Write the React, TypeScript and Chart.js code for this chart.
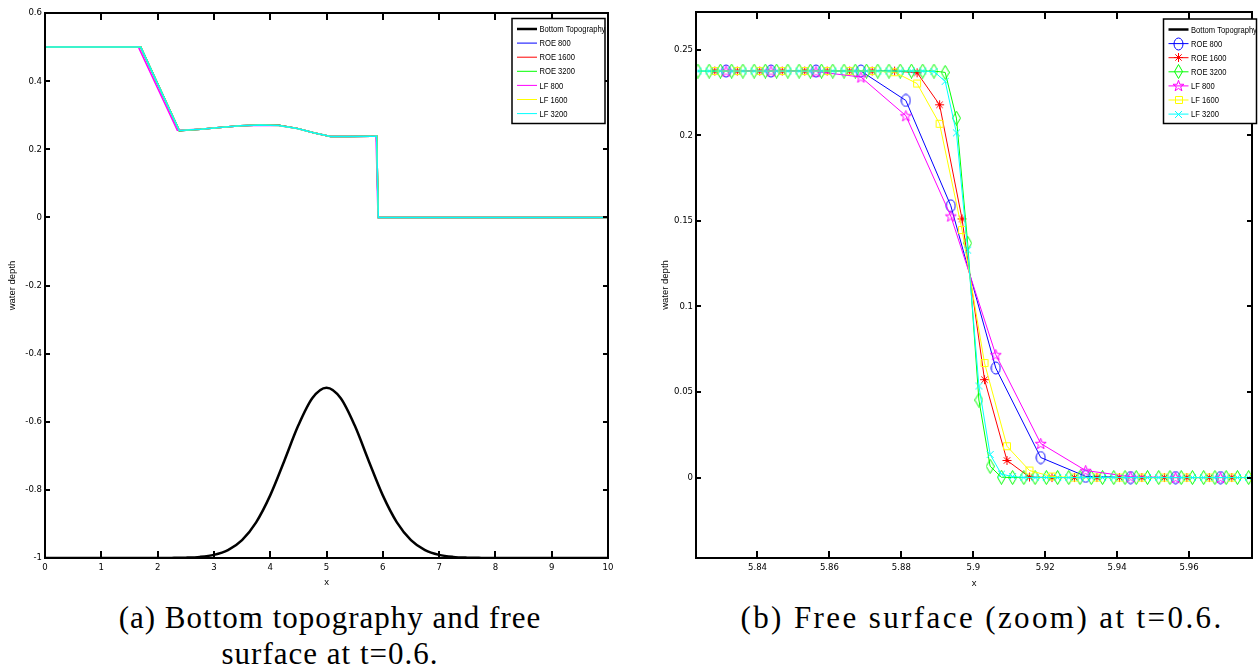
import React, { useEffect, useRef } from 'react';
import { Chart, registerables } from 'chart.js';

Chart.register(...registerables);

const SANS_NARROW = '"DejaVu Sans Condensed", "Liberation Sans Narrow", "Liberation Sans", Arial, sans-serif';
const SANS = '"Liberation Sans", Arial, sans-serif';

// ---------------- Series (legend order) ----------------
const seriesNames = ['Bottom Topography', 'ROE 800', 'ROE 1600', 'ROE 3200', 'LF 800', 'LF 1600', 'LF 3200'];
const seriesColors = ['#000000', '#0000ff', '#ff0000', '#00ff00', '#ff00ff', '#ffff00', '#00ffff'];
const seriesMarkers = ['none', 'circle', 'asterisk', 'diamond', 'pentagram', 'square', 'cross'];
const seriesWidths = [2.5, 1, 1, 1, 1, 1, 1];

// ---------------- Left panel data (full domain) ----------------
const bottomX = [0, 1, 2, 2.25, 2.5, 2.75, 3, 3.25, 3.5, 3.75, 4, 4.25, 4.5, 4.75, 5, 5.25, 5.5, 5.75, 6, 6.25, 6.5, 6.75, 7, 7.25, 7.5, 7.75, 8, 9, 10];
const bottomY = [-1, -1, -0.9999, -0.9997, -0.999, -0.9968, -0.9908, -0.9766, -0.9473, -0.8952, -0.8161, -0.7151, -0.6106, -0.5303, -0.5, -0.5303, -0.6106, -0.7151, -0.8161, -0.8952, -0.9473, -0.9766, -0.9908, -0.9968, -0.999, -0.9997, -0.9999, -1, -1];

const surfaceX = [0, 1.7, 2.385, 2.76, 3.1, 3.47, 3.83, 4.15, 4.48, 4.77, 5.07, 5.4, 5.8, 5.89, 5.92, 10];
const roeSurfaceY = [0.5, 0.5, 0.2545, 0.2585, 0.2635, 0.2691, 0.271, 0.2701, 0.2613, 0.2484, 0.2375, 0.2372, 0.2378, 0.239, 0, 0];
const lfSurfaceY = [0.5, 0.5, 0.2548, 0.2585, 0.2635, 0.2691, 0.2709, 0.27, 0.2612, 0.2484, 0.2376, 0.2373, 0.2378, 0.2388, 0, 0];
const lf800SurfaceX = [0, 1.66, 2.35, 2.76, 3.1, 3.47, 3.83, 4.15, 4.48, 4.77, 5.07, 5.4, 5.8, 5.88, 5.915, 10];
const lf800SurfaceY = [0.5, 0.5, 0.2555, 0.2585, 0.2635, 0.2691, 0.2708, 0.2699, 0.2611, 0.2483, 0.2376, 0.2373, 0.2378, 0.2385, 0, 0];

// ---------------- Right panel data (zoom near the front) ----------------
const grid800X = [5.83125, 5.84375, 5.85625, 5.86875, 5.88125, 5.89375, 5.90625, 5.91875, 5.93125, 5.94375, 5.95625, 5.96875];
const roe800Y = [0.2375, 0.2375, 0.2375, 0.2375, 0.2203, 0.1588, 0.064, 0.0117, 0.0007, 0, 0, 0];
const lf800Y = [0.2375, 0.2375, 0.2372, 0.234, 0.2114, 0.1528, 0.0718, 0.0199, 0.0041, 0.0005, 0, 0];

const grid1600X = [5.828125, 5.834375, 5.840625, 5.846875, 5.853125, 5.859375, 5.865625, 5.871875, 5.878125, 5.884375,
  5.890625, 5.896875, 5.903125, 5.909375, 5.915625, 5.921875, 5.928125, 5.934375, 5.940625, 5.946875,
  5.953125, 5.959375, 5.965625, 5.971875, 5.978125];
const roe1600Y = [0.2375, 0.2375, 0.2375, 0.2375, 0.2375, 0.2375, 0.2375, 0.2375, 0.2375, 0.2365,
  0.2178, 0.1511, 0.0572, 0.01, 0.0003, 0, 0, 0, 0, 0,
  0, 0, 0, 0, 0];
const lf1600Y = [0.2375, 0.2375, 0.2375, 0.2375, 0.2375, 0.2375, 0.2375, 0.2375, 0.2368, 0.2302,
  0.2067, 0.1446, 0.0669, 0.0183, 0.0041, 0.0006, 0, 0, 0, 0,
  0, 0, 0, 0, 0];

const grid3200X = [5.8234375, 5.8265625, 5.8296875, 5.8328125, 5.8359375, 5.8390625, 5.8421875, 5.8453125, 5.8484375, 5.8515625,
  5.8546875, 5.8578125, 5.8609375, 5.8640625, 5.8671875, 5.8703125, 5.8734375, 5.8765625, 5.8796875, 5.8828125,
  5.8859375, 5.8890625, 5.8921875, 5.8953125, 5.8984375, 5.9015625, 5.9046875, 5.9078125, 5.9109375, 5.9140625,
  5.9171875, 5.9203125, 5.9234375, 5.9265625, 5.9296875, 5.9328125, 5.9359375, 5.9390625, 5.9421875, 5.9453125,
  5.9484375, 5.9515625, 5.9546875, 5.9578125, 5.9609375, 5.9640625, 5.9671875, 5.9703125, 5.9734375, 5.9765625];
const roe3200Y = [0.2375, 0.2375, 0.2375, 0.2375, 0.2375, 0.2375, 0.2375, 0.2375, 0.2375, 0.2375,
  0.2375, 0.2375, 0.2375, 0.2375, 0.2375, 0.2375, 0.2375, 0.2375, 0.2375, 0.2375,
  0.2375, 0.2375, 0.2367, 0.21, 0.137, 0.0453, 0.0066, 0.0002, 0, 0,
  0, 0, 0, 0, 0, 0, 0, 0, 0, 0,
  0, 0, 0, 0, 0, 0, 0, 0, 0, 0];
const lf3200Y = [0.2375, 0.2375, 0.2375, 0.2375, 0.2375, 0.2375, 0.2375, 0.2375, 0.2375, 0.2375,
  0.2375, 0.2375, 0.2375, 0.2375, 0.2375, 0.2375, 0.2375, 0.2375, 0.2375, 0.2375,
  0.2375, 0.2372, 0.2315, 0.2014, 0.1329, 0.0535, 0.0135, 0.002, 0.0006, 0,
  0, 0, 0, 0, 0, 0, 0, 0, 0, 0,
  0, 0, 0, 0, 0, 0, 0, 0, 0, 0];

// ---------------- Ticks ----------------
const leftXTicks = [0, 1, 2, 3, 4, 5, 6, 7, 8, 9, 10];
const leftXLabels = ['0', '1', '2', '3', '4', '5', '6', '7', '8', '9', '10'];
const leftYTicks = [-1, -0.8, -0.6, -0.4, -0.2, 0, 0.2, 0.4, 0.6];
const leftYLabels = ['-1', '-0.8', '-0.6', '-0.4', '-0.2', '0', '0.2', '0.4', '0.6'];
const rightXTicks = [5.84, 5.86, 5.88, 5.9, 5.92, 5.94, 5.96];
const rightXLabels = ['5.84', '5.86', '5.88', '5.9', '5.92', '5.94', '5.96'];
const rightYTicks = [0, 0.05, 0.1, 0.15, 0.2, 0.25];
const rightYLabels = ['0', '0.05', '0.1', '0.15', '0.2', '0.25'];

// ---------------- Markers ----------------
function makeMarker(kind: string, color: string): HTMLCanvasElement | null {
  if (kind === 'none') return null;
  const dims: Record<string, [number, number]> = {
    circle: [11, 14], asterisk: [11, 11], diamond: [9, 15], pentagram: [13, 13], square: [10, 10], cross: [9, 9],
  };
  const [w, h] = dims[kind];
  const c = document.createElement('canvas');
  c.width = w;
  c.height = h;
  const g = c.getContext('2d')!;
  g.strokeStyle = color;
  g.lineWidth = 1;
  const cx = w / 2, cy = h / 2;
  g.beginPath();
  if (kind === 'circle') {
    g.ellipse(cx, cy, 4.5, 6, 0, 0, Math.PI * 2);
  } else if (kind === 'asterisk') {
    const r = 4.5;
    for (let k = 0; k < 4; k++) {
      const a = (k * Math.PI) / 4;
      g.moveTo(cx + r * Math.cos(a), cy + r * Math.sin(a));
      g.lineTo(cx - r * Math.cos(a), cy - r * Math.sin(a));
    }
  } else if (kind === 'diamond') {
    g.moveTo(cx, 0.5);
    g.lineTo(w - 0.5, cy);
    g.lineTo(cx, h - 0.5);
    g.lineTo(0.5, cy);
    g.closePath();
  } else if (kind === 'pentagram') {
    for (let k = 0; k < 10; k++) {
      const r = k % 2 === 0 ? 5.8 : 2.3;
      const a = -Math.PI / 2 + (k * Math.PI) / 5;
      const px = cx + r * Math.cos(a);
      const py = cy + 0.6 + r * Math.sin(a);
      if (k === 0) g.moveTo(px, py); else g.lineTo(px, py);
    }
    g.closePath();
  } else if (kind === 'square') {
    g.rect(1.5, 1.5, w - 3, h - 3);
  } else if (kind === 'cross') {
    g.moveTo(1, 1); g.lineTo(w - 1, h - 1);
    g.moveTo(w - 1, 1); g.lineTo(1, h - 1);
  }
  g.stroke();
  return c;
}

function buildDatasets(xs: number[][], ys: number[][], withMarkers: boolean, thinWidth: number) {
  return seriesNames.map((label, i) => {
    const marker = withMarkers ? makeMarker(seriesMarkers[i], seriesColors[i]) : null;
    return {
      label,
      data: xs[i].map((x, k) => ({ x, y: ys[i][k] })),
      borderColor: seriesColors[i],
      backgroundColor: seriesColors[i],
      borderWidth: i === 0 ? seriesWidths[i] : seriesWidths[i] * thinWidth,
      legendWidth: seriesWidths[i],
      pointStyle: marker ?? 'circle',
      pointRadius: marker ? 5 : 0,
      pointHoverRadius: 0,
      order: seriesNames.length - 1 - i,
      cubicInterpolationMode: i === 0 ? 'monotone' : 'default',
      tension: 0,
    } as any;
  });
}

// ---------------- Plugins ----------------
const framePlugin = {
  id: 'frame',
  afterDatasetsDraw(chart: any, _args: any, opts: any) {
    const { ctx, chartArea: a } = chart;
    const xs = chart.scales.x, ys = chart.scales.y;
    ctx.save();
    ctx.strokeStyle = '#000';
    ctx.lineWidth = 2;
    ctx.beginPath();
    ctx.rect(a.left, a.top, a.right - a.left, a.bottom - a.top);
    ctx.stroke();
    ctx.beginPath();
    for (const t of xs.ticks) {
      const px = Math.round(xs.getPixelForValue(t.value));
      ctx.moveTo(px, a.bottom); ctx.lineTo(px, a.bottom - opts.xTickLen);
      ctx.moveTo(px, a.top); ctx.lineTo(px, a.top + opts.xTickLen);
    }
    for (const t of ys.ticks) {
      const py = Math.round(ys.getPixelForValue(t.value));
      ctx.moveTo(a.left, py); ctx.lineTo(a.left + opts.yTickLen, py);
      ctx.moveTo(a.right, py); ctx.lineTo(a.right - opts.yTickLen, py);
    }
    ctx.stroke();
    ctx.fillStyle = '#000';
    ctx.font = `${opts.titleSize}px ${SANS}`;
    ctx.textAlign = 'center';
    ctx.textBaseline = 'middle';
    ctx.fillText(opts.xTitle, (a.left + a.right) / 2, opts.xTitleY);
    ctx.translate(opts.yTitleX, (a.top + a.bottom) / 2);
    ctx.rotate(-Math.PI / 2);
    ctx.fillText(opts.yTitle, 0, 0);
    ctx.restore();
  },
};

const legendPlugin = {
  id: 'boxLegend',
  afterDraw(chart: any, _args: any, opts: any) {
    const { ctx } = chart;
    const bx = opts.left, by = opts.top, bw = opts.width, bh = opts.height;
    ctx.save();
    ctx.fillStyle = '#fff';
    ctx.fillRect(bx, by, bw, bh);
    ctx.strokeStyle = '#000';
    ctx.lineWidth = 1.5;
    ctx.strokeRect(bx, by, bw, bh);
    ctx.font = `${opts.fontSize}px ${SANS}`;
    ctx.textBaseline = 'middle';
    ctx.textAlign = 'left';
    chart.data.datasets.forEach((ds: any, i: number) => {
      const ry = by + opts.rowStart + i * opts.rowStep;
      ctx.strokeStyle = ds.borderColor;
      ctx.lineWidth = ds.legendWidth;
      ctx.beginPath();
      ctx.moveTo(bx + opts.lineX1, ry);
      ctx.lineTo(bx + opts.lineX2, ry);
      ctx.stroke();
      if (ds.pointRadius > 0 && ds.pointStyle instanceof HTMLCanvasElement) {
        const m = ds.pointStyle as HTMLCanvasElement;
        ctx.drawImage(m, Math.round(bx + (opts.lineX1 + opts.lineX2) / 2 - m.width / 2), Math.round(ry - m.height / 2));
      }
      ctx.save();
      ctx.fillStyle = '#000';
      ctx.translate(bx + opts.textX, ry + 0.5);
      ctx.scale(opts.textSquash, 1);
      ctx.fillText(ds.label, 0, 0);
      ctx.restore();
    });
    ctx.restore();
  },
};

function makeConfig(p: any) {
  const tickFont = { family: SANS_NARROW, size: 9.5 };
  return {
    type: 'line',
    data: { datasets: p.datasets },
    options: {
      animation: false,
      responsive: false,
      events: [],
      layout: { padding: { top: p.padTop, right: p.padRight, left: 0, bottom: 0 } },
      plugins: {
        legend: { display: false },
        tooltip: { enabled: false },
        frame: p.frame,
        boxLegend: p.legend,
      },
      scales: {
        x: {
          type: 'linear',
          min: p.xMin,
          max: p.xMax,
          grid: { display: false, drawTicks: false },
          border: { display: false },
          ticks: { autoSkip: false, maxRotation: 0, padding: 4, color: '#000', font: tickFont, callback: (_v: any, i: number) => p.xLabels[i] },
          afterBuildTicks: (s: any) => { s.ticks = p.xTicks.map((v: number) => ({ value: v })); },
          afterFit: (s: any) => { s.height = p.xHeight; },
        },
        y: {
          type: 'linear',
          min: p.yMin,
          max: p.yMax,
          grid: { display: false, drawTicks: false },
          border: { display: false },
          ticks: { autoSkip: false, padding: 3, color: '#000', font: tickFont, callback: (_v: any, i: number) => p.yLabels[i] },
          afterBuildTicks: (s: any) => { s.ticks = p.yTicks.map((v: number) => ({ value: v })); },
          afterFit: (s: any) => { s.width = p.yWidth; },
        },
      },
    },
    plugins: [framePlugin, legendPlugin],
  } as any;
}

const legendLayout = { rowStart: 10.5, rowStep: 14.1, lineX1: 5, lineX2: 25, textX: 27.5, fontSize: 9.5, textSquash: 0.8 };

function captionStyle(cx: number, spacing: number): React.CSSProperties {
  return {
    position: 'absolute',
    left: cx - 320,
    top: 600,
    width: 640,
    textAlign: 'center',
    fontFamily: '"Liberation Serif", "DejaVu Serif", serif',
    fontSize: 31,
    lineHeight: '36px',
    letterSpacing: `${spacing}px`,
    color: '#000',
    whiteSpace: 'nowrap',
  };
}

export default function App() {
  const leftRef = useRef<HTMLCanvasElement>(null);
  const rightRef = useRef<HTMLCanvasElement>(null);

  useEffect(() => {
    const leftDs = buildDatasets(
      [bottomX, surfaceX, surfaceX, surfaceX, lf800SurfaceX, surfaceX, surfaceX],
      [bottomY, roeSurfaceY, roeSurfaceY, roeSurfaceY, lf800SurfaceY, lfSurfaceY, lfSurfaceY],
      false,
      1.5,
    );
    const rightDs = buildDatasets(
      [bottomX, grid800X, grid1600X, grid3200X, grid800X, grid1600X, grid3200X],
      [bottomY, roe800Y, roe1600Y, roe3200Y, lf800Y, lf1600Y, lf3200Y],
      true,
      1,
    );
    const left = new Chart(leftRef.current!, makeConfig({
      datasets: leftDs,
      xMin: 0, xMax: 10, yMin: -1, yMax: 0.6,
      xTicks: leftXTicks, xLabels: leftXLabels, yTicks: leftYTicks, yLabels: leftYLabels,
      padTop: 13, padRight: 12, xHeight: 42, yWidth: 45,
      frame: { xTickLen: 7, yTickLen: 5, titleSize: 9.5, xTitle: 'x', xTitleY: 582, yTitle: 'water depth', yTitleX: 12 },
      legend: { left: 512, top: 18.5, width: 93, height: 105, ...legendLayout },
    }));
    const right = new Chart(rightRef.current!, makeConfig({
      datasets: rightDs,
      xMin: 5.8229, xMax: 5.9775, yMin: -0.047, yMax: 0.272,
      xTicks: rightXTicks, xLabels: rightXLabels, yTicks: rightYTicks, yLabels: rightYLabels,
      padTop: 12, padRight: 0, xHeight: 42, yWidth: 46,
      frame: { xTickLen: 7, yTickLen: 5, titleSize: 9.5, xTitle: 'x', xTitleY: 583, yTitle: 'water depth', yTitleX: 15 },
      legend: { left: 513.5, top: 19, width: 93, height: 104.5, ...legendLayout },
    }));
    return () => {
      left.destroy();
      right.destroy();
    };
  }, []);

  return (
    <div style={{ position: 'absolute', left: 0, top: 0, width: 1258, height: 670, background: '#fff', overflow: 'hidden' }}>
      <canvas ref={leftRef} width={620} height={600} style={{ position: 'absolute', left: 0, top: 0, width: 620, height: 600 }} />
      <canvas ref={rightRef} width={608} height={600} style={{ position: 'absolute', left: 650, top: 0, width: 608, height: 600 }} />
      <div style={captionStyle(330, 1.0)}>
        (a) Bottom topography and free
        <br />
        surface at t=0.6.
      </div>
      <div style={captionStyle(982, 2.4)}>(b) Free surface (zoom) at t=0.6.</div>
    </div>
  );
}
